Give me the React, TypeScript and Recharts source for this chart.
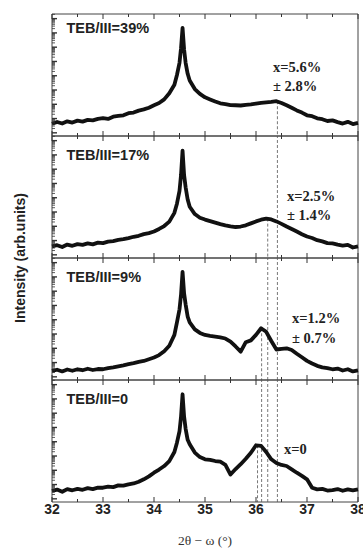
import { LineChart, Line, XAxis, YAxis, ReferenceLine, ReferenceArea } from "recharts"

// 2theta - omega grid (deg), denser around the substrate peak
const twoTheta = [
  32.0, 32.1, 32.2, 32.3, 32.4, 32.5, 32.6, 32.7, 32.8, 32.9,
  33.0, 33.1, 33.2, 33.3, 33.4, 33.5, 33.6, 33.7, 33.8, 33.9,
  34.0, 34.1, 34.2, 34.3, 34.4, 34.45, 34.5, 34.53, 34.56, 34.59, 34.62, 34.66, 34.7, 34.8, 34.9,
  35.0, 35.1, 35.2, 35.3, 35.4, 35.5, 35.6, 35.7, 35.8, 35.9,
  36.0, 36.1, 36.2, 36.3, 36.4, 36.5, 36.6, 36.7, 36.8, 36.9,
  37.0, 37.1, 37.2, 37.3, 37.4, 37.5, 37.6, 37.7, 37.8, 37.9,
  38.0,
]

const teb39 = [
  10, 11.5, 10.2, 12, 11, 12.6, 11.8, 13.2, 12.8, 14,
  14.6, 14, 15.8, 16.4, 17, 18.7, 19.2, 20.8, 21.8, 23.2,
  25.2, 27, 30, 35, 42, 50, 60, 72, 88.6, 71, 60, 51, 45.5, 38.5, 34.5,
  31.7, 30, 28.3, 26.8, 26.2, 25.3, 25.2, 25, 25.6, 26,
  26.6, 27.2, 27.6, 28, 28.5, 27, 25.2, 23.2, 21, 19.2,
  17, 16.2, 14.5, 13.8, 12.3, 12.8, 11.4, 10.2, 11.6, 9.8,
  10.8,
]

const teb17 = [
  9.5, 10.5, 9, 11, 10, 11.4, 10.8, 12, 11.2, 12.6,
  12.2, 13.4, 13.8, 14.8, 15.4, 16.3, 17.4, 18.2, 19.6, 20.4,
  21.7, 23.8, 26.2, 29.8, 37, 44.5, 55, 68, 88, 68, 58, 48, 42, 36, 33,
  31.5, 30.2, 29, 27.8, 26.8, 26, 25.4, 25.8, 26.8, 28.4,
  30, 31.4, 32.3, 31.6, 30, 28, 25.8, 23.8, 21.7, 19.5,
  17.6, 16.4, 14.6, 13.6, 12.2, 12, 10.9, 10.2, 10.8, 8.6,
  9.5,
]

const teb9 = [
  7.4, 8.4, 7, 8.6, 7.6, 8.8, 8, 9.2, 8.2, 9,
  8.8, 9.8, 10.4, 11.2, 12, 13, 13.8, 14.8, 15.6, 17,
  18.4, 20.4, 23.6, 28.1, 37, 47.3, 58, 70, 88.7, 71, 62, 52, 47.3, 41.5, 38.6,
  36.9, 36.2, 35.6, 35, 34, 31.5, 27.5, 23.2, 31, 32.5,
  37, 42.4, 39.5, 32, 25, 25.6, 26, 24.6, 21.5, 18.6,
  15.7, 13.5, 11.6, 10.4, 9.8, 8.8, 9.4, 7.8, 8.8, 7,
  7.8,
]

const teb0 = [
  9, 10.2, 8.4, 10.6, 9.6, 10.8, 10, 11.4, 10.6, 11.8,
  11.7, 12.6, 12.2, 13.6, 13.4, 14.5, 15.2, 16.6, 18.6, 21,
  24, 26.6, 29.5, 33.5, 41, 48.6, 58, 70, 88.3, 70, 60, 51, 47.3, 40.5, 36.8,
  35, 34.6, 33.6, 33, 30.5, 22.5, 27, 31, 35.5, 40.4,
  46.5, 46, 41, 35, 32, 30.4, 29.5, 26.8, 24, 21.4,
  18.6, 11.7, 10.4, 10.8, 9.4, 9.8, 10.6, 9.2, 10.4, 9.6,
  10.4,
]

const series = [teb39, teb17, teb9, teb0]
const panelLabels = ["TEB/III=39%", "TEB/III=17%", "TEB/III=9%", "TEB/III=0"]
const compLabels = [["x=5.6%", "\u00b1 2.8%"], ["x=2.5%", "\u00b1 1.4%"], ["x=1.2%", "\u00b1 0.7%"], ["x=0"]]
// dashed markers at the layer peak of each panel
const markerX = [36.42, 36.23, 36.11, 36.03]
const markerTop = [28.5, 32.3, 42.4, 46.5]

const xTicks = [32, 32.5, 33, 33.5, 34, 34.5, 35, 35.5, 36, 36.5, 37, 37.5, 38]
const yMajor = [2.6, 14.3, 26, 37.7, 49.4, 61.1, 72.8, 84.5, 96.2]
const yStep = 11.7

const yTicks: number[] = []
yMajor.forEach((m) => {
  yTicks.push(m)
  for (let k = 2; k <= 9; k++) {
    const v = m + yStep * Math.log10(k)
    if (v < 100) yTicks.push(v)
  }
})

const PANEL_TOP = 14
const PANEL_H = 122
const LEFT = 52
const W = 363
const INK = "#222"
const AXIS_W = 8

function XTick(props: any) {
  const { x, y, payload, showLabel } = props
  const major = Number.isInteger(payload.value)
  const len = major ? 5 : 3
  return (
    <g>
      <line x1={x} x2={x} y1={y} y2={y - len} stroke="#333" strokeWidth={1} />
      <line x1={x} x2={x} y1={y - PANEL_H} y2={y - PANEL_H + len} stroke="#333" strokeWidth={1} />
      {showLabel && major && (
        <text x={x} y={y + 12} textAnchor="middle" fontFamily="Liberation Sans, Arial, sans-serif" fontWeight="bold" fontSize={14} fill={INK}>
          {payload.value}
        </text>
      )}
    </g>
  )
}

function YTick(props: any) {
  const { x, y, payload } = props
  const major = yMajor.includes(payload.value)
  return <line x1={x} x2={x + (major ? 5 : 3)} y1={y} y2={y} stroke="#333" strokeWidth={major ? 1.4 : 0.8} />
}

function Panel({ index }: { index: number }) {
  const last = index === series.length - 1
  const data = twoTheta.map((t, i) => ({ t, v: series[index][i] }))
  const xh = last ? 22 : AXIS_W
  return (
    <div style={{ position: "absolute", left: 0, top: PANEL_TOP + index * PANEL_H - 2 }}>
      <LineChart
        width={W}
        height={PANEL_H + 2 + xh}
        data={data}
        margin={{ top: 2, right: 5, bottom: 0, left: LEFT - AXIS_W }}
      >
        <XAxis
          dataKey="t"
          type="number"
          domain={[32, 38]}
          ticks={xTicks}
          interval={0}
          height={xh}
          axisLine={false}
          tickLine={false}
          tickSize={0}
          tickMargin={0}
          tick={<XTick showLabel={last} />}
        />
        <YAxis
          type="number"
          domain={[0, 100]}
          ticks={yTicks}
          interval={0}
          width={AXIS_W}
          axisLine={false}
          tickLine={false}
          tickSize={0}
          tickMargin={0}
          tick={<YTick />}
        />
        {markerX.slice(0, index).map((mx) => (
          <ReferenceLine key={mx} x={mx} stroke="#555" strokeWidth={0.8} strokeDasharray="3 2" />
        ))}
        <ReferenceLine
          segment={[{ x: markerX[index], y: markerTop[index] }, { x: markerX[index], y: 0 }]}
          stroke="#555"
          strokeWidth={0.8}
          strokeDasharray="3 2"
        />
        <Line
          dataKey="v"
          type="linear"
          stroke="#111"
          strokeWidth={3.8}
          strokeLinejoin="round"
          dot={false}
          isAnimationActive={false}
        />
        <ReferenceArea x1={32} x2={38} y1={0} y2={100} fill="none" stroke="#444" strokeWidth={1} ifOverflow="visible" />
      </LineChart>
    </div>
  )
}

const labelBase = [32.7, 160.3, 282.3, 404.3]
const compBase = [71.5, 200.5, 323, 454]
const compX = [273, 287, 292, 284]

export default function App() {
  return (
    <div style={{ position: "absolute", left: 0, top: 0, width: W, height: 548, background: "#fff", overflow: "hidden" }}>
      {series.map((_, i) => (
        <Panel key={i} index={i} />
      ))}
      <svg width={W} height={548} style={{ position: "absolute", left: 0, top: 0, pointerEvents: "none" }}>
        {panelLabels.map((l, i) => (
          <text key={l} x={66.5} y={labelBase[i]} fontFamily="Liberation Sans, Arial, sans-serif" fontWeight="bold" fontSize={14.5} fill={INK}>
            {l}
          </text>
        ))}
        {compLabels.map((lines, i) =>
          lines.map((l, j) => (
            <text key={l} x={compX[i]} y={compBase[i] + j * 19.5} fontFamily="Liberation Serif, Times New Roman, serif" fontWeight="bold" fontSize={14.5} fill={INK}>
              {l}
            </text>
          ))
        )}
        <text
          transform="translate(25,258) rotate(-90)"
          textAnchor="middle"
          fontFamily="Liberation Sans, Arial, sans-serif"
          fontWeight="bold"
          fontSize={14}
          fill={INK}
        >
          Intensity (arb.units)
        </text>
        <text x={205} y={545} textAnchor="middle" fontFamily="Liberation Serif, Times New Roman, serif" fontSize={13.5} fill="#333">
          2θ − ω (°)
        </text>
      </svg>
    </div>
  )
}
